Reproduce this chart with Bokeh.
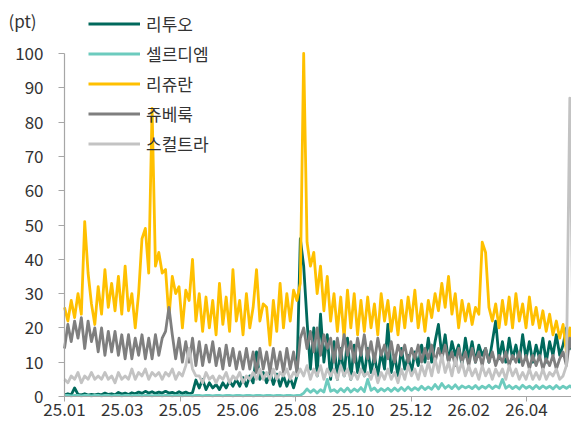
from bokeh.plotting import figure
from bokeh.models import Range1d, FixedTicker, Legend, LegendItem, Label
from bokeh.embed import file_html
from bokeh.resources import INLINE

FONT = "Noto Sans CJK KR"

tick_days = [0, 60, 120, 180, 240, 300, 360, 420, 480]
tick_labels = ["25.01", "25.03", "25.05", "25.06", "25.08", "25.10", "25.12", "26.02", "26.04"]
mark_days = [0, 120, 240, 360, 480]
y_ticks = [0, 10, 20, 30, 40, 50, 60, 70, 80, 90, 100]

names = ["리투오", "셀르디엠", "리쥬란", "쥬베룩", "스컬트라"]
colors = ["#00695C", "#6CCBBE", "#FFC000", "#7F7F7F", "#C3C3C3"]

lituo = [0.5, 0.8, 0.5, 2.5, 0.6, 0.5, 0.8, 0.4, 0.6, 0.5,
         0.7, 0.5, 1.0, 0.6, 0.8, 0.5, 1.2, 0.7, 1.0, 0.6,
         1.1, 0.8, 1.3, 0.9, 1.5, 1.0, 1.4, 0.9, 1.3, 1.0,
         1.5, 1.0, 1.2, 0.8, 1.4, 0.9, 1.3, 0.8, 1.1, 4.8,
         2.5, 5.0, 2.0, 4.0, 2.5, 3.5, 2.0, 4.0, 2.5, 4.5,
         3.0, 5.0, 3.0, 5.5, 3.0, 6.0, 4.0, 13.0, 5.0, 7.0,
         4.0, 7.0, 3.5, 6.5, 3.0, 6.0, 3.0, 5.5, 2.5, 6.0,
         46, 38, 22, 8, 20, 6, 24, 10, 18, 5,
         16, 5, 14, 6, 17, 5, 15, 7, 13, 6,
         14, 7, 12, 6, 13, 8, 21, 7, 12, 6,
         14, 8, 12, 7, 13, 9, 15, 10, 17, 10,
         16, 21, 12, 18, 10, 16, 12, 15, 9, 17,
         11, 16, 10, 15, 12, 14, 10, 16, 22, 11,
         16, 10, 17, 11, 15, 10, 18, 11, 16, 10,
         15, 11, 17, 10, 16, 12, 18, 12, 15, 20,
         14, 17, 10]

celldm = [0.3, 0.3, 0.2, 0.3, 0.3, 0.2, 0.3, 0.3, 0.2, 0.3,
          0.3, 0.2, 0.3, 0.3, 0.2, 0.3, 0.3, 0.2, 0.3, 0.3,
          0.2, 0.3, 0.3, 0.2, 0.3, 0.3, 0.2, 0.3, 0.3, 0.2,
          0.3, 0.3, 0.2, 0.3, 0.3, 0.2, 0.3, 0.3, 0.2, 0.3,
          0.3, 0.2, 0.3, 0.3, 0.2, 0.3, 0.3, 0.2, 0.3, 0.3,
          0.2, 0.3, 0.3, 0.2, 0.3, 0.3, 0.2, 0.3, 0.3, 0.2,
          0.3, 0.3, 0.2, 0.3, 0.3, 0.2, 0.3, 0.3, 0.2, 0.3,
          0.3, 1.0, 2.2, 1.2, 2.0, 1.0, 2.0, 1.3, 5.0, 1.5,
          2.0, 1.2, 2.3, 1.4, 2.5, 1.3, 2.2, 1.5, 2.6, 1.4,
          5.0, 1.8, 2.5, 1.4, 2.3, 1.6, 2.4, 1.5, 2.5, 1.6,
          2.6, 1.7, 2.8, 1.8, 2.6, 1.9, 3.0, 2.0, 2.8, 2.1,
          3.5, 2.2, 3.8, 2.4, 3.2, 2.3, 3.4, 2.2, 3.1, 2.5,
          3.0, 2.3, 3.2, 2.2, 3.0, 2.4, 3.3, 2.3, 3.1, 2.5,
          5.0, 2.4, 3.2, 2.3, 3.0, 2.2, 3.3, 2.4, 3.0, 2.2,
          3.2, 2.3, 3.1, 2.4, 3.0, 2.2, 3.2, 2.3, 3.0, 2.4,
          3.1, 2.2, 2.5]

rejuran = [26, 22, 28, 23, 30, 24, 51, 36, 27, 21,
           32, 24, 37, 26, 33, 25, 35, 24, 38, 25,
           30, 20, 30, 46, 49, 36, 84, 38, 42, 36,
           37, 23, 35, 30, 32, 20, 31, 28, 40, 22,
           30, 19, 29, 20, 28, 18, 33, 21, 29, 19,
           37, 22, 28, 18, 30, 20, 26, 37, 22, 27,
           26, 15, 28, 19, 33, 20, 30, 22, 31, 28,
           33, 100, 45, 38, 42, 30, 38, 25, 35, 22,
           30, 19, 29, 17, 31, 20, 30, 18, 28, 19,
           29, 20, 27, 18, 30, 22, 28, 19, 26, 18,
           28, 20, 29, 22, 31, 20, 27, 19, 28, 23,
           30, 25, 33, 26, 35, 24, 30, 20, 28, 22,
           27, 21, 26, 24, 45, 42, 26, 22, 27, 20,
           28, 21, 29, 20, 30, 22, 27, 20, 29, 21,
           26, 20, 25, 19, 24, 18, 22, 17, 21, 13,
           20, 14, 16]

juvelook = [14, 21, 16, 22, 17, 23, 14, 22, 16, 20,
            13, 20, 12, 19, 13, 19, 12, 18, 11, 18,
            11, 17, 12, 18, 11, 17, 11, 18, 12, 17,
            19, 26, 18, 11, 17, 10, 16, 10, 17, 9,
            16, 9, 15, 10, 16, 9, 14, 8, 15, 9,
            14, 8, 13, 8, 14, 8, 13, 7, 14, 8,
            13, 7, 14, 8, 13, 7, 14, 8, 13, 7,
            17, 20, 14, 19, 13, 20, 12, 18, 14, 17,
            10, 17, 11, 18, 12, 16, 10, 17, 12, 18,
            11, 16, 10, 17, 12, 15, 11, 16, 10, 15,
            12, 15, 10, 14, 11, 15, 10, 14, 11, 15,
            10, 14, 11, 15, 10, 13, 9, 14, 10, 13,
            9, 14, 10, 13, 9, 14, 10, 13, 9, 12,
            10, 13, 9, 12, 10, 13, 9, 12, 8, 12,
            9, 12, 8, 11, 9, 12, 8, 11, 13, 9,
            17, 12, 9]

sculptra = [5, 4, 6, 5, 7, 4, 6, 5, 7, 5,
            6, 5, 7, 5, 6, 4, 7, 5, 6, 5,
            8, 5, 7, 6, 8, 5, 7, 6, 7, 5,
            7, 6, 8, 5, 7, 6, 9, 14, 8, 6,
            6, 4, 7, 5, 6, 4, 6, 5, 7, 4,
            6, 5, 7, 4, 6, 5, 7, 5, 8, 5,
            7, 5, 8, 5, 7, 6, 8, 5, 7, 6,
            8, 6, 9, 5, 8, 6, 9, 5, 8, 6,
            8, 5, 9, 6, 8, 5, 7, 5, 8, 6,
            7, 5, 8, 4, 7, 5, 8, 5, 7, 4,
            8, 5, 9, 6, 8, 5, 9, 6, 10, 6,
            11, 7, 12, 7, 10, 6, 11, 7, 10, 6,
            9, 6, 8, 5, 9, 6, 8, 5, 8, 6,
            8, 5, 9, 6, 8, 5, 7, 5, 8, 5,
            7, 5, 8, 5, 7, 6, 8, 5, 6, 9,
            87, 12, 9]

series = [lituo, celldm, rejuran, juvelook, sculptra]
days = [i * 3.5 for i in range(len(rejuran))]

W, H = 571, 422
x_px = 0.9625                      # pixels per day
y_px = 3.43                        # pixels per point
x_start = -64 / x_px
x_end = (W - 64) / x_px
y_start = -(H - 396) / y_px
y_end = 100 + 53 / y_px

p = figure(width=W, height=H, output_backend="svg", toolbar_location=None,
           x_range=Range1d(x_start, x_end), y_range=Range1d(y_start, y_end),
           min_border=0, min_border_left=0, min_border_right=0,
           min_border_top=0, min_border_bottom=0)
p.title.visible = False
p.outline_line_color = None
p.xgrid.grid_line_color = None
p.ygrid.grid_line_color = None
p.background_fill_color = "white"
p.border_fill_color = "white"

text_col = "#333333"
axis_col = "#A6A6A6"

renderers = []
for vals, col in zip(series, colors):
    r = p.line(days, vals, line_color=col, line_width=2.8, line_join="round")
    renderers.append(r)

xa = p.xaxis[0]
xa.fixed_location = 0
xa.bounds = (0, x_end)
xa.ticker = FixedTicker(ticks=tick_days, minor_ticks=mark_days)
xa.major_label_overrides = {d: l for d, l in zip(tick_days, tick_labels)}
xa.major_tick_out = 0
xa.major_tick_in = 0
xa.minor_tick_out = 5
xa.minor_tick_in = 0
xa.minor_tick_line_color = axis_col
xa.axis_line_color = axis_col
xa.axis_line_width = 1.2
xa.major_label_text_font = FONT
xa.major_label_text_font_size = "17px"
xa.major_label_text_color = text_col
xa.major_label_standoff = 1

ya = p.yaxis[0]
ya.fixed_location = 0
ya.bounds = (0, 100)
ya.ticker = FixedTicker(ticks=y_ticks)
ya.major_tick_out = 6
ya.major_tick_in = 0
ya.minor_tick_out = 0
ya.minor_tick_in = 0
ya.major_tick_line_color = axis_col
ya.axis_line_color = axis_col
ya.axis_line_width = 1.2
ya.major_label_text_font = FONT
ya.major_label_text_font_size = "17px"
ya.major_label_text_color = text_col
ya.major_label_standoff = 15

legend = Legend(items=[LegendItem(label=n, renderers=[r]) for n, r in zip(names, renderers)],
                location=(88, H - 156), orientation="vertical",
                glyph_width=52, glyph_height=23, label_height=23, spacing=5,
                label_standoff=6, padding=0, margin=0,
                border_line_color=None, background_fill_alpha=0,
                label_text_font=FONT, label_text_font_size="17px", label_text_color=text_col)
p.add_layout(legend, "center")

unit = Label(x=8, y=H - 20, x_units="screen", y_units="screen", text="(pt)",
             text_font=FONT, text_font_size="17px", text_color=text_col,
             text_baseline="middle", text_align="left")
p.add_layout(unit)

open("out.html", "w").write(file_html(p, INLINE))
